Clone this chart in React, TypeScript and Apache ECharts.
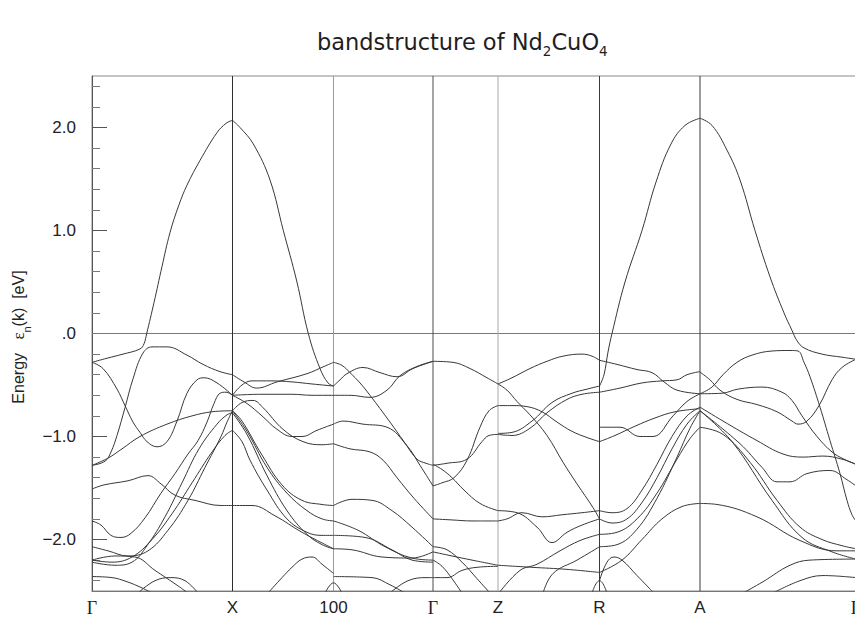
import React, { useEffect, useRef } from 'react';
import * as echarts from 'echarts';

// high-symmetry points along the k path (path distance, arbitrary units)
const kPoints = [0, 1.405, 2.415, 3.41, 4.06, 5.075, 6.08, 7.64];
const kLabels = ['Γ', 'X', '100', 'Γ', 'Z', 'R', 'A', 'Γ'];
const yMajor = [-2, -1, 0, 1, 2];
const yLabels = ['−2.0', '−1.0', '.0', '1.0', '2.0'];
const yMinor = [-2.4, -2.2, -1.8, -1.6, -1.4, -1.2, -0.8, -0.6, -0.4, -0.2, 0.2, 0.4, 0.6, 0.8, 1.2, 1.4, 1.6, 1.8, 2.2, 2.4];
const eMin = -2.5;
const eMax = 2.5;
const fermiLevel = 0;

// band lines, segment by segment: [k, E(eV)]
const bandsGX = [
  [[0, -0.28], [0.15, -0.24], [0.31, -0.2], [0.48, -0.15], [0.52, -0.1], [0.547, 0], [0.62, 0.3], [0.7, 0.65], [0.78, 0.98], [0.87, 1.25], [0.95, 1.44], [1.08, 1.68], [1.25, 1.95], [1.34, 2.04], [1.405, 2.07]],
  [[0, -1.28], [0.13, -1.24], [0.19, -1.15], [0.25, -0.99], [0.33, -0.72], [0.41, -0.44], [0.51, -0.19], [0.6, -0.13], [0.75, -0.13], [0.95, -0.21], [1.11, -0.3], [1.28, -0.37], [1.405, -0.4]],
  [[0, -1.28], [0.16, -1.21], [0.3, -1.12], [0.48, -1.0], [0.75, -0.88], [1.0, -0.8], [1.2, -0.76], [1.405, -0.75]],
  [[0, -0.28], [0.11, -0.34], [0.25, -0.54], [0.33, -0.7], [0.41, -0.86], [0.48, -0.96], [0.55, -1.05], [0.65, -1.1], [0.75, -1.05], [0.85, -0.85], [0.95, -0.58], [1.05, -0.45], [1.12, -0.43], [1.25, -0.48], [1.405, -0.6]],
  [[0, -1.82], [0.09, -1.86], [0.19, -1.96], [0.29, -1.98], [0.39, -1.94], [0.53, -1.79], [0.69, -1.55], [0.83, -1.36], [0.96, -1.17], [1.06, -1.04], [1.15, -0.86], [1.22, -0.68], [1.28, -0.58], [1.34, -0.57], [1.405, -0.6]],
  [[0, -2.07], [0.16, -2.11], [0.36, -2.16], [0.56, -2.11], [0.76, -1.91], [0.96, -1.62], [1.13, -1.3], [1.29, -1.0], [1.35, -0.86], [1.405, -0.75]],
  [[0, -2.2], [0.2, -2.22], [0.4, -2.17], [0.6, -2.0], [0.8, -1.75], [1.0, -1.45], [1.2, -1.15], [1.33, -0.99], [1.405, -0.94]],
  [[0, -1.51], [0.12, -1.47], [0.36, -1.43], [0.56, -1.38], [0.69, -1.46], [0.83, -1.57], [1.03, -1.62], [1.29, -1.67], [1.405, -1.67]],
  [[0, -2.2], [0.23, -2.16], [0.43, -2.17], [0.63, -2.3], [0.83, -2.43], [0.96, -2.52]],
  [[0.46, -2.52], [0.63, -2.4], [0.79, -2.37], [0.93, -2.4], [1.06, -2.52]],
  [[0, -2.36], [0.2, -2.37], [0.35, -2.41], [0.5, -2.47], [0.6, -2.52]],
  [[0, -2.22], [0.23, -2.25], [0.4, -2.22], [0.55, -2.06], [0.73, -1.78], [0.9, -1.45], [1.07, -1.12], [1.25, -0.88], [1.35, -0.79], [1.405, -0.77]],
];

const bandsXH = [
  [[1.405, 2.07], [1.48, 2.0], [1.613, 1.84], [1.78, 1.49], [1.913, 1.0], [2.047, 0.51], [2.163, 0.0], [2.28, -0.34], [2.36, -0.48], [2.415, -0.51]],
  [[1.405, -0.4], [1.52, -0.47], [1.647, -0.53], [1.85, -0.47], [2.15, -0.39], [2.32, -0.32], [2.415, -0.28]],
  [[1.405, -0.6], [1.5, -0.5], [1.6, -0.46], [1.8, -0.46], [2.0, -0.47], [2.2, -0.49], [2.415, -0.51]],
  [[1.405, -0.6], [1.7, -0.59], [2.0, -0.59], [2.2, -0.6], [2.415, -0.6]],
  [[1.405, -0.75], [1.5, -0.67], [1.61, -0.65], [1.71, -0.72], [1.91, -0.93], [2.11, -1.05], [2.3, -1.08], [2.415, -1.07]],
  [[1.405, -0.6], [1.55, -0.68], [1.7, -0.8], [1.85, -0.93], [2.0, -1.0], [2.1, -1.0], [2.25, -0.94], [2.415, -0.88]],
  [[1.405, -0.75], [1.55, -0.95], [1.75, -1.3], [1.95, -1.55], [2.15, -1.72], [2.3, -1.8], [2.415, -1.82]],
  [[1.405, -0.75], [1.5, -0.85], [1.7, -1.18], [1.9, -1.47], [2.1, -1.62], [2.3, -1.66], [2.415, -1.67]],
  [[1.405, -0.94], [1.5, -1.05], [1.58, -1.23], [1.75, -1.52], [1.95, -1.8], [2.15, -1.93], [2.3, -1.96], [2.415, -1.96]],
  [[1.405, -0.77], [1.55, -0.98], [1.75, -1.38], [1.95, -1.72], [2.15, -1.95], [2.3, -2.05], [2.415, -2.09]],
  [[1.405, -1.67], [1.6, -1.67], [1.83, -1.77], [2.1, -1.93], [2.415, -2.09]],
  [[1.76, -2.52], [1.9, -2.37], [2.0, -2.27], [2.1, -2.19], [2.2, -2.17], [2.3, -2.24], [2.415, -2.33]],
  [[2.33, -2.52], [2.415, -2.42], [2.5, -2.52]],
];

const bandsHG = [
  [[2.415, -0.28], [2.5, -0.31], [2.58, -0.38], [2.68, -0.48], [2.78, -0.6], [2.98, -0.86], [3.12, -1.05], [3.25, -1.22], [3.34, -1.26], [3.41, -1.28]],
  [[2.415, -0.51], [2.48, -0.45], [2.55, -0.39], [2.71, -0.33], [2.88, -0.38], [3.05, -0.42], [3.21, -0.34], [3.41, -0.27]],
  [[2.415, -0.6], [2.58, -0.6], [2.78, -0.62], [2.95, -0.55], [3.08, -0.41], [3.25, -0.32], [3.41, -0.27]],
  [[2.415, -0.88], [2.51, -0.85], [2.71, -0.88], [2.95, -0.91], [3.15, -1.09], [3.28, -1.28], [3.41, -1.48]],
  [[2.415, -1.07], [2.58, -1.12], [2.78, -1.15], [2.91, -1.23], [3.05, -1.4], [3.22, -1.6], [3.41, -1.8]],
  [[2.415, -1.67], [2.6, -1.61], [2.8, -1.62], [3.0, -1.72], [3.2, -1.88], [3.41, -2.07]],
  [[2.415, -1.82], [2.66, -1.91], [2.93, -2.07], [3.2, -2.18], [3.41, -2.2]],
  [[2.415, -2.09], [2.6, -2.1], [2.9, -2.17], [3.2, -2.18], [3.41, -2.12]],
  [[2.415, -1.96], [2.73, -1.98], [3.0, -2.1], [3.2, -2.2], [3.41, -2.22]],
  [[2.415, -2.36], [2.8, -2.37], [2.98, -2.44], [3.13, -2.52]],
  [[2.98, -2.52], [3.16, -2.4], [3.35, -2.37], [3.41, -2.37]],
];

const bandsGZ = [
  [[3.41, -0.27], [3.61, -0.28], [3.78, -0.34], [3.95, -0.43], [4.06, -0.49]],
  [[3.41, -1.48], [3.5, -1.45], [3.62, -1.4], [3.75, -1.23], [3.88, -0.91], [3.97, -0.75], [4.06, -0.7]],
  [[3.41, -1.28], [3.55, -1.26], [3.75, -1.22], [3.9, -1.05], [3.97, -0.99], [4.06, -0.98]],
  [[3.41, -1.27], [3.5, -1.32], [3.6, -1.4], [3.72, -1.52], [3.88, -1.65], [4.06, -1.72]],
  [[3.41, -1.8], [3.6, -1.81], [3.8, -1.82], [4.06, -1.82]],
  [[3.41, -2.12], [3.6, -2.16], [3.8, -2.2], [4.06, -2.25]],
  [[3.41, -2.2], [3.5, -2.26], [3.6, -2.38], [3.7, -2.52]],
  [[3.41, -2.37], [3.55, -2.37], [3.7, -2.3], [3.85, -2.27], [4.06, -2.26]],
  [[3.41, -2.07], [3.55, -2.1], [3.7, -2.22], [3.85, -2.38], [3.98, -2.52]],
];

const bandsZR = [
  [[4.06, -0.49], [4.2, -0.43], [4.38, -0.34], [4.55, -0.27], [4.71, -0.22], [4.9, -0.2], [5.0, -0.22], [5.075, -0.26]],
  [[4.06, -0.49], [4.15, -0.55], [4.25, -0.66], [4.38, -0.79], [4.55, -0.99], [4.71, -1.25], [4.85, -1.46], [5.01, -1.69], [5.075, -1.8]],
  [[4.06, -0.7], [4.2, -0.7], [4.35, -0.71], [4.5, -0.76], [4.65, -0.86], [4.8, -0.95], [4.95, -1.01], [5.075, -1.05]],
  [[4.06, -0.98], [4.2, -0.99], [4.38, -0.92], [4.55, -0.77], [4.75, -0.64], [4.9, -0.59], [5.075, -0.57]],
  [[4.06, -0.97], [4.2, -0.96], [4.4, -0.85], [4.6, -0.67], [4.8, -0.58], [4.95, -0.54], [5.075, -0.51]],
  [[4.06, -1.72], [4.25, -1.74], [4.45, -1.88], [4.6, -2.03], [4.75, -1.93], [4.9, -1.86], [5.075, -1.8]],
  [[4.06, -1.82], [4.15, -1.8], [4.3, -1.74], [4.5, -1.78], [4.7, -1.76], [4.9, -1.74], [5.075, -1.72]],
  [[4.06, -2.25], [4.4, -2.27], [4.75, -2.29], [5.075, -2.32]],
  [[4.07, -2.52], [4.28, -2.3], [4.45, -2.24], [4.68, -2.11], [4.88, -2.01], [5.075, -1.95]],
  [[4.51, -2.52], [4.61, -2.33], [4.85, -2.2], [5.075, -2.07]],
  [[5.0, -2.52], [5.04, -2.43], [5.075, -2.4], [5.11, -2.43], [5.15, -2.52]],
];

const bandsRA = [
  [[5.075, -0.51], [5.12, -0.4], [5.16, -0.18], [5.2, 0.0], [5.33, 0.5], [5.5, 1.0], [5.64, 1.47], [5.79, 1.84], [5.93, 2.02], [6.08, 2.09]],
  [[5.075, -0.26], [5.25, -0.3], [5.45, -0.35], [5.6, -0.38], [5.72, -0.47], [5.85, -0.55], [6.08, -0.585]],
  [[5.075, -0.57], [5.28, -0.53], [5.5, -0.48], [5.7, -0.46], [5.85, -0.45], [5.95, -0.4], [6.08, -0.37]],
  [[5.075, -0.91], [5.28, -0.91], [5.48, -1.0], [5.61, -1.0], [5.81, -0.8], [5.95, -0.66], [6.08, -0.585]],
  [[5.075, -1.05], [5.23, -0.99], [5.43, -0.9], [5.63, -0.82], [5.83, -0.76], [6.08, -0.73]],
  [[5.075, -1.72], [5.2, -1.74], [5.35, -1.7], [5.5, -1.52], [5.65, -1.27], [5.8, -1.0], [5.95, -0.8], [6.08, -0.715]],
  [[5.075, -1.8], [5.2, -1.84], [5.35, -1.8], [5.5, -1.64], [5.65, -1.4], [5.8, -1.12], [5.95, -0.88], [6.08, -0.75]],
  [[5.075, -1.95], [5.25, -1.93], [5.45, -1.8], [5.65, -1.55], [5.85, -1.22], [5.98, -1.02], [6.08, -0.91]],
  [[5.075, -2.07], [5.25, -2.05], [5.45, -1.9], [5.65, -1.6], [5.85, -1.2], [5.98, -0.92], [6.08, -0.75]],
  [[5.075, -2.32], [5.3, -2.2], [5.5, -2.0], [5.7, -1.8], [5.9, -1.68], [6.08, -1.65]],
  [[5.075, -2.4], [5.15, -2.22], [5.22, -2.17], [5.3, -2.2], [5.45, -2.35], [5.55, -2.45], [5.62, -2.52]],
];

const bandsAG = [
  [[6.08, 2.09], [6.2, 2.02], [6.35, 1.78], [6.48, 1.49], [6.63, 1.0], [6.78, 0.55], [6.92, 0.2], [7.0, 0.03], [7.05, -0.07], [7.12, -0.14], [7.3, -0.2], [7.5, -0.23], [7.64, -0.25]],
  [[6.08, -0.585], [6.2, -0.52], [6.31, -0.4], [6.45, -0.28], [6.6, -0.21], [6.8, -0.17], [6.98, -0.165], [7.06, -0.17], [7.12, -0.28], [7.18, -0.42], [7.28, -0.715], [7.38, -1.04], [7.48, -1.36], [7.55, -1.62], [7.6, -1.76], [7.64, -1.82]],
  [[6.08, -0.375], [6.18, -0.45], [6.28, -0.55], [6.45, -0.64], [6.65, -0.69], [6.85, -0.76], [7.0, -0.85], [7.06, -0.88], [7.15, -0.85], [7.27, -0.7], [7.4, -0.45], [7.5, -0.33], [7.64, -0.25]],
  [[6.08, -0.585], [6.3, -0.58], [6.46, -0.54], [6.7, -0.52], [6.9, -0.57], [7.0, -0.65], [7.1, -0.8], [7.25, -1.0], [7.4, -1.15], [7.52, -1.22], [7.64, -1.27]],
  [[6.08, -0.715], [6.31, -0.85], [6.65, -1.04], [6.91, -1.17], [7.11, -1.2], [7.31, -1.19], [7.5, -1.22], [7.64, -1.27]],
  [[6.08, -0.75], [6.48, -1.07], [6.7, -1.3], [6.85, -1.44], [6.98, -1.44], [7.15, -1.36], [7.38, -1.33], [7.55, -1.42], [7.64, -1.48]],
  [[6.08, -0.91], [6.31, -0.98], [6.58, -1.25], [6.85, -1.62], [7.08, -1.88], [7.3, -2.0], [7.5, -2.06], [7.64, -2.09]],
  [[6.08, -0.75], [6.4, -1.05], [6.8, -1.62], [7.1, -1.98], [7.4, -2.12], [7.64, -2.19]],
  [[6.08, -1.65], [6.25, -1.66], [6.65, -1.78], [7.08, -2.01], [7.45, -2.11], [7.64, -2.11]],
  [[6.51, -2.52], [6.71, -2.41], [6.98, -2.25], [7.18, -2.2], [7.64, -2.19]],
  [[6.81, -2.52], [7.08, -2.4], [7.31, -2.35], [7.64, -2.37]],
];

const symLineColors = ['#555', '#2e2e2e', '#9c9c9c', '#4a4a4a', '#a8a8a8', '#3a3a3a', '#3a3a3a', '#555'];

const CHART_W = 866;
const CHART_H = 619;

const App: React.FC = () => {
  const ref = useRef<HTMLDivElement>(null);

  useEffect(() => {
    if (!ref.current) return;
    const chart = echarts.init(ref.current, undefined, { renderer: 'svg' });
    const kMax = kPoints[kPoints.length - 1];

    const bandSeries = [bandsGX, bandsXH, bandsHG, bandsGZ, bandsZR, bandsRA, bandsAG]
      .flat()
      .map((curve) => ({
        type: 'line',
        data: curve,
        smooth: 0.4,
        symbol: 'none',
        silent: true,
        z: 4,
        lineStyle: { color: '#383838', width: 1 },
      }));

    const symSeries = kPoints.slice(1, kPoints.length - 1).map((k, i) => ({
      type: 'line',
      data: [[k, eMin], [k, eMax]],
      symbol: 'none',
      silent: true,
      z: 3,
      lineStyle: { color: symLineColors[i + 1], width: 1 },
    }));

    const fermiSeries = {
      type: 'line',
      data: [[0, fermiLevel], [kMax, fermiLevel]],
      symbol: 'none',
      silent: true,
      z: 3,
      lineStyle: { color: '#7a7a7a', width: 1 },
    };

    const option = {
      animation: false,
      backgroundColor: '#ffffff',
      graphic: [
        {
          type: 'text',
          left: 317,
          top: 30,
          style: {
            text: '{a|bandstructure of Nd}{s|2}{a|CuO}{s|4}',
            rich: {
              a: { fontFamily: 'DejaVu Sans', fontSize: 22.5, fontWeight: 'normal', fill: '#1e1e1e', lineHeight: 26, verticalAlign: 'top' },
              s: { fontFamily: 'DejaVu Sans', fontSize: 13.5, fontWeight: 'normal', fill: '#1e1e1e', lineHeight: 14, verticalAlign: 'top', padding: [14, 0, 0, 0] },
            },
          },
        },
        {
          type: 'text',
          x: 20,
          y: 337,
          rotation: Math.PI / 2,
          style: {
            text: '{a|Energy   }{e|ε}{n|n}{a|(k)  [eV]}',
            align: 'center',
            verticalAlign: 'middle',
            rich: {
              a: { fontFamily: 'Liberation Sans', fontSize: 16, fill: '#222', lineHeight: 20, verticalAlign: 'top' },
              e: { fontFamily: 'Liberation Serif', fontSize: 17, fill: '#222', lineHeight: 20, verticalAlign: 'top' },
              n: { fontFamily: 'Liberation Sans', fontSize: 11, fill: '#222', lineHeight: 11, verticalAlign: 'top', padding: [11, 0, 0, 0] },
            },
          },
        },
      ],
      grid: {
        left: 92,
        right: CHART_W - 856,
        top: 76,
        bottom: 28,
        show: true,
        borderColor: '#8a8a8a',
        borderWidth: 1,
        backgroundColor: 'transparent',
      },
      xAxis: {
        type: 'value',
        min: 0,
        max: kMax,
        axisLine: { show: true, onZero: false, lineStyle: { color: '#777', width: 1 } },
        axisTick: { show: false },
        splitLine: { show: false },
        axisLabel: {
          customValues: kPoints,
          margin: 8,
          formatter: (v: number) => {
            const i = kPoints.findIndex((p) => Math.abs(p - v) < 1e-6);
            const t = i >= 0 ? kLabels[i] : '';
            return t === 'Γ' ? '{g|Γ}' : '{s|' + t + '}';
          },
          rich: {
            g: { fontFamily: 'Liberation Serif', fontSize: 18, color: '#222' },
            s: { fontFamily: 'Liberation Sans', fontSize: 17, color: '#222' },
          },
        },
      },
      yAxis: [
        {
          type: 'value',
          min: eMin,
          max: eMax,
          position: 'left',
          axisLine: { show: true, onZero: false, lineStyle: { color: '#555', width: 1 } },
          axisTick: { show: true, inside: true, length: 15, customValues: yMajor, lineStyle: { color: '#555' } },
          splitLine: { show: false },
          axisLabel: {
            customValues: yMajor,
            margin: 16,
            fontFamily: 'Liberation Sans',
            fontSize: 17,
            color: '#222',
            formatter: (v: number) => {
              const i = yMajor.findIndex((m) => Math.abs(m - v) < 1e-6);
              return i >= 0 ? yLabels[i] : '';
            },
          },
        },
        {
          type: 'value',
          min: eMin,
          max: eMax,
          position: 'left',
          offset: 0,
          axisLine: { show: false },
          axisTick: { show: true, inside: true, length: 8, customValues: yMinor, lineStyle: { color: '#777' } },
          axisLabel: { show: false },
          splitLine: { show: false },
        },
      ],
      series: [fermiSeries, ...symSeries, ...bandSeries],
    };

    chart.setOption(option as any);
    return () => chart.dispose();
  }, []);

  return (
    <div style={{ position: 'absolute', left: 0, top: 0, width: 855, height: CHART_H, overflow: 'hidden', background: '#fff' }}>
      <div ref={ref} style={{ width: CHART_W, height: CHART_H }} />
    </div>
  );
};

export default App;
